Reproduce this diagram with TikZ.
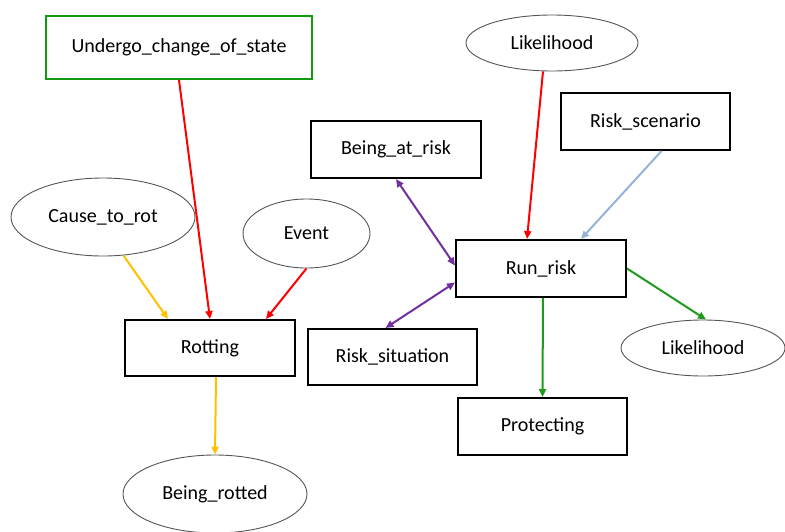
\documentclass[tikz,border=0pt]{standalone}
\usepackage{fontspec}
\setmainfont{Carlito}
\usetikzlibrary{arrows.meta,shapes.geometric}
\definecolor{gbox}{HTML}{139A13}
\definecolor{garr}{HTML}{1E9A1E}
\definecolor{yarr}{HTML}{FFC000}
\definecolor{barr}{HTML}{95B3D7}
\definecolor{parr}{HTML}{7030A0}
\definecolor{egray}{HTML}{555555}
\tikzset{
  box/.style={draw=black,line width=2pt,rectangle,inner sep=0pt,font=\fontsize{20}{24}\selectfont},
  oval/.style={draw=egray,line width=0.9pt,ellipse,inner sep=0pt,font=\fontsize{20}{24}\selectfont},
  conn/.style={line width=2pt,-{Triangle[length=8pt,width=7pt]}},
  bconn/.style={line width=2pt,{Triangle[length=8pt,width=7pt]}-{Triangle[length=8pt,width=7pt]}},
}
\begin{document}
\begin{tikzpicture}[x=1pt,y=-1pt]
\useasboundingbox (0,0) rectangle (785,531);
\node[box,draw=gbox,minimum width=266pt,minimum height=63pt] (ucs) at (179,47.5) {Undergo\_change\_of\_state};
\node[oval,minimum width=172pt,minimum height=56pt] (lik1) at (552,43) {Likelihood};
\node[box,minimum width=169pt,minimum height=57pt] (rsc) at (645.5,121.5) {Risk\_scenario};
\node[box,minimum width=170pt,minimum height=57pt] (bar) at (396,149.5) {Being\_at\_risk};
\node[oval,minimum width=184pt,minimum height=78pt] (ctr) at (103,217) {Cause\_to\_rot};
\node[oval,minimum width=127pt,minimum height=69pt] (evt) at (306.5,233.5) {Event};
\node[box,minimum width=170pt,minimum height=57pt] (run) at (541,268.5) {Run\_risk};
\node[box,minimum width=170pt,minimum height=56pt] (rot) at (210,348) {Rotting};
\node[box,minimum width=169pt,minimum height=56pt] (rsit) at (392.5,357) {Risk\_situation};
\node[oval,minimum width=164pt,minimum height=56pt] (lik2) at (703,348) {Likelihood};
\node[box,minimum width=169pt,minimum height=57pt] (prot) at (542.5,426.5) {Protecting};
\node[oval,minimum width=184pt,minimum height=78pt] (rotd) at (215,494) {Being\_rotted};

\draw[conn,red] (ucs.south) -- (rot.north);
\draw[conn,yarr] (ctr.-62) -- ([xshift=-42pt]rot.north);
\draw[conn,red] (evt.south) -- ([xshift=56pt]rot.north);
\draw[conn,yarr] ([xshift=6pt]rot.south) -- (rotd.north);
\draw[conn,red] ([xshift=-9pt]lik1.south) -- ([xshift=-14pt]run.north);
\draw[conn,barr] ([xshift=16pt]rsc.south) -- ([xshift=40pt]run.north);
\draw[bconn,parr] (bar.south) -- ([yshift=3pt]run.west);
\draw[bconn,parr] ([yshift=-14pt]run.west) -- ([xshift=-7pt]rsit.north);
\draw[conn,garr] ([xshift=2pt]run.south) -- (prot.north);
\draw[conn,garr] (run.east) -- ([xshift=3pt]lik2.north);
\end{tikzpicture}
\end{document}
